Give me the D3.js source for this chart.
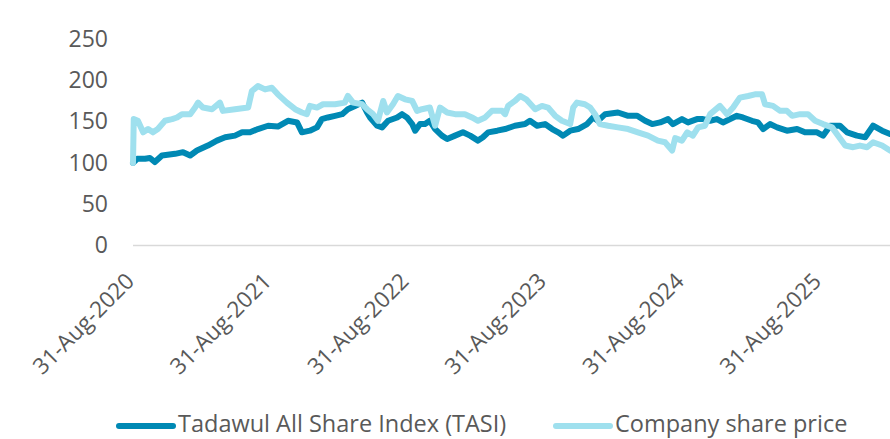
<!DOCTYPE html>
<html lang="en">
<head>
<meta charset="utf-8">
<title>TASI vs company share price</title>
<script src="https://cdn.jsdelivr.net/npm/d3@7"></script>
<style>
  body { margin: 0; background: #fff; }
  text { font-family: "Open Sans", sans-serif; fill: #595959; }
</style>
</head>
<body>
<script>
// rebased to 100 on 31-Aug-2020; day = days after the start date
var startDate = "2020-08-31"

var tasiDay = [0, 11, 32, 45, 58, 77, 112, 133, 152, 170, 199, 223, 245, 271, 290, 311, 332, 359, 385, 412,
  436, 449, 470, 489, 502, 518, 537, 556, 571, 590, 609, 622, 630, 649, 662, 678, 702, 715, 728, 742,
  750, 763, 776, 789, 803, 821, 835, 856, 877, 896, 917, 930, 944, 968, 989, 1015, 1042, 1055, 1074, 1095,
  1114, 1130, 1143, 1162, 1183, 1207, 1223, 1236, 1255, 1289, 1316, 1340, 1361, 1380, 1401, 1422, 1435, 1459, 1475, 1499,
  1515, 1534, 1552, 1568, 1605, 1621, 1645, 1661, 1675, 1693, 1712, 1738, 1765, 1786, 1818, 1834, 1853, 1879, 1898, 1924,
  1946, 1967, 1991, 2012]
var tasiVal = [100, 105, 105, 106, 101, 109, 111, 113, 109, 115, 121, 127, 131, 133, 137, 137, 141, 145, 144, 151,
  149, 137, 139, 143, 153, 155, 157, 159, 165, 169, 173, 161, 155, 145, 143, 151, 155, 159, 155, 147,
  139, 147, 147, 151, 141, 133, 129, 133, 137, 133, 127, 131, 137, 139, 141, 145, 147, 151, 145, 147,
  141, 137, 133, 139, 141, 147, 155, 151, 159, 161, 157, 157, 151, 147, 149, 153, 147, 153, 149, 153,
  153, 151, 153, 149, 157, 155, 151, 149, 141, 147, 143, 139, 141, 137, 137, 133, 145, 145, 137, 133,
  131, 145, 139, 135]

var companyDay = [0, 2, 13, 27, 40, 53, 66, 85, 104, 117, 130, 152, 165, 173, 186, 210, 231, 239, 271, 306,
  316, 332, 351, 369, 385, 409, 431, 449, 462, 470, 489, 505, 537, 563, 571, 585, 609, 622, 638, 651,
  665, 675, 691, 704, 723, 742, 755, 768, 789, 803, 816, 835, 856, 882, 901, 917, 936, 954, 981, 989,
  997, 1015, 1029, 1045, 1069, 1087, 1103, 1122, 1140, 1162, 1170, 1180, 1201, 1215, 1228, 1241, 1263, 1289, 1316, 1342,
  1369, 1395, 1414, 1433, 1441, 1459, 1473, 1488, 1502, 1520, 1534, 1560, 1579, 1595, 1613, 1635, 1653, 1672, 1680, 1701,
  1720, 1738, 1752, 1773, 1794, 1813, 1834, 1858, 1874, 1893, 1914, 1932, 1951, 1967, 1991, 2012]
var companyVal = [100, 153, 151, 137, 141, 137, 141, 151, 153, 155, 159, 159, 167, 173, 167, 165, 173, 163, 165, 167,
  187, 193, 189, 191, 183, 173, 165, 161, 159, 169, 167, 171, 171, 173, 181, 173, 171, 165, 159, 151,
  175, 161, 171, 181, 177, 175, 163, 165, 167, 145, 167, 161, 159, 159, 155, 151, 155, 163, 163, 159,
  169, 175, 181, 177, 165, 169, 167, 157, 151, 147, 167, 173, 171, 167, 159, 147, 145, 143, 141, 137,
  133, 127, 125, 115, 130, 127, 137, 133, 143, 145, 159, 169, 159, 167, 179, 181, 183, 183, 171, 169,
  163, 163, 157, 159, 159, 151, 147, 143, 133, 121, 119, 121, 119, 125, 121, 115]

var yTicks = [0, 50, 100, 150, 200, 250]
var xTickDates = ["2020-08-31", "2021-08-31", "2022-08-31", "2023-08-31", "2024-08-31", "2025-08-31"]
var seriesNames = ["Tadawul All Share Index (TASI)", "Company share price"]
var seriesColors = ["#0089b4", "#9fe0ee"]

var width = 890
var height = 439
var svg = d3.select("body").append("svg").attr("width", width).attr("height", height)

var parse = d3.timeParse("%Y-%m-%d")
var t0 = parse(startDate)
function toPoints(days, vals) {
  return days.map(function(d, i) { return { date: d3.timeDay.offset(t0, d), value: vals[i] } })
}
var series = [toPoints(tasiDay, tasiVal), toPoints(companyDay, companyVal)]

var x = d3.scaleTime()
  .domain([t0, d3.timeDay.offset(t0, d3.max(companyDay))])
  .range([133, 890])
var y = d3.scaleLinear().domain([0, 250]).range([245.5, 39])

// y axis labels only, no line
var yAxis = svg.append("g")
  .attr("transform", "translate(108,0)")
  .call(d3.axisLeft(y).tickValues(yTicks).tickSize(0).tickPadding(0))
yAxis.select(".domain").remove()
yAxis.selectAll("text")
  .style("font-size", "23px")
  .style("font-family", "Open Sans")
  .attr("fill", "#595959")

// x axis line
svg.append("line")
  .attr("x1", 133).attr("x2", 890)
  .attr("y1", y(0)).attr("y2", y(0))
  .attr("stroke", "#d9d9d9").attr("stroke-width", 1.5)

var fmt = d3.timeFormat("%d-%b-%Y")
svg.selectAll(".xlab")
  .data(xTickDates)
  .enter().append("text")
  .attr("class", "xlab")
  .attr("transform", function(d) { return "translate(" + (x(parse(d)) - 3) + ",277) rotate(-45)" })
  .attr("text-anchor", "end")
  .attr("dy", "0.35em")
  .style("font-size", "22.5px")
  .text(function(d) { return fmt(parse(d)) })

var line = d3.line()
  .x(function(d) { return x(d.date) })
  .y(function(d) { return y(d.value) })

svg.selectAll(".series")
  .data(series)
  .enter().append("path")
  .attr("class", "series")
  .attr("d", line)
  .attr("fill", "none")
  .attr("stroke", function(d, i) { return seriesColors[i] })
  .attr("stroke-width", 6)
  .attr("stroke-linejoin", "round")
  .attr("stroke-linecap", "round")

// legend
var legendX = [119, 556]
var leg = svg.selectAll(".leg")
  .data(seriesNames)
  .enter().append("g")
  .attr("class", "leg")
  .attr("transform", function(d, i) { return "translate(" + legendX[i] + ",426)" })
leg.append("line")
  .attr("x1", 0).attr("x2", 54)
  .attr("stroke", function(d, i) { return seriesColors[i] })
  .attr("stroke-width", 6)
  .attr("stroke-linecap", "round")
leg.append("text")
  .attr("x", 59)
  .attr("y", -2.5)
  .attr("dy", "0.35em")
  .style("font-size", "23.5px")
  .text(function(d) { return d })
</script>
</body>
</html>
